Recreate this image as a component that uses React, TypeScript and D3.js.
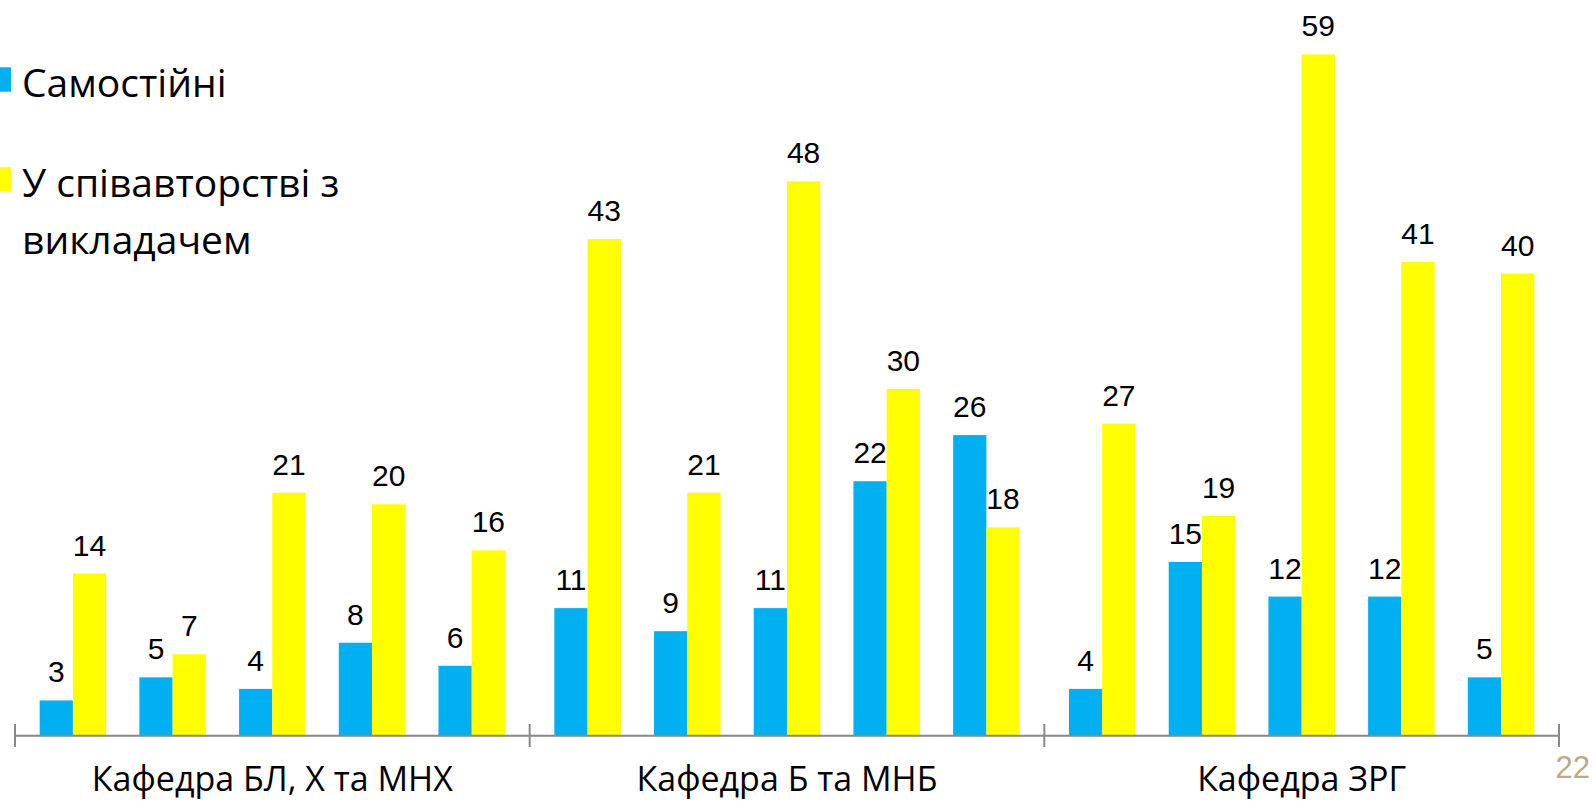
import * as d3 from 'd3';

const groups = ['Кафедра БЛ, Х та МНХ', 'Кафедра Б та МНБ', 'Кафедра ЗРГ'];
const seriesNames = ['Самостійні', 'У співавторстві з викладачем'];
const colors = ['#00B0F0', '#FFFF00'];

// 5 bars per department
const independent = [3, 5, 4, 8, 6, 11, 9, 11, 22, 26, 4, 15, 12, 12, 5];
const coauthored = [14, 7, 21, 20, 16, 43, 21, 48, 30, 18, 27, 19, 59, 41, 40];

const pageNumber = '22';

export default function App() {
  const width = 1595;
  const height = 802;
  const axisY = 735;
  const margin = { left: 15, right: 36 };

  const groupScale = d3
    .scaleBand<string>()
    .domain(groups)
    .range([margin.left, width - margin.right])
    .padding(0);

  const slotScale = d3
    .scaleBand<number>()
    .domain(d3.range(5))
    .range([0, groupScale.bandwidth()])
    .paddingInner(0.333)
    .paddingOuter(0.2475);

  const yScale = d3.scaleLinear().domain([0, 60]).range([axisY, axisY - 60 * 11.535]);

  const barW = slotScale.bandwidth() / 2;
  const series = [independent, coauthored];

  const bars = series.flatMap((vals, s) =>
    vals.map((v, i) => {
      const g = groups[Math.floor(i / 5)];
      const x = (groupScale(g) ?? 0) + (slotScale(i % 5) ?? 0) + s * barW;
      return { key: `${s}-${i}`, x, y: yScale(v), h: yScale(0) - yScale(v), v, fill: colors[s] };
    }),
  );

  const tickXs = [...groups.map((g) => groupScale(g) ?? 0), width - margin.right];

  return (
    <svg
      width={width}
      height={height}
      style={{ position: 'absolute', left: 0, top: 0, background: '#fff' }}>
      <g>
        {bars.map((b) => (
          <rect key={b.key} x={b.x} y={b.y} width={barW} height={b.h} fill={b.fill} />
        ))}
      </g>
      <g fontFamily='"Liberation Sans", Arial, sans-serif' fontSize={30} textAnchor='middle' fill='#000'>
        {bars.map((b) => (
          <text key={b.key} x={b.x + barW / 2} y={b.y - 18}>
            {b.v}
          </text>
        ))}
      </g>
      <line
        x1={margin.left}
        x2={width - margin.right}
        y1={axisY + 0.7}
        y2={axisY + 0.7}
        stroke='#898989'
        strokeWidth={2}
      />
      {tickXs.map((x) => (
        <line key={x} x1={x} x2={x} y1={724} y2={747} stroke='#898989' strokeWidth={2} />
      ))}
      <g fontFamily='"Open Sans", sans-serif' fontSize={34} textAnchor='middle' fill='#000'>
        {groups.map((g) => (
          <text key={g} x={(groupScale(g) ?? 0) + groupScale.bandwidth() / 2} y={791}>
            {g}
          </text>
        ))}
      </g>
      <g fontFamily='"Open Sans", sans-serif' fontSize={39} fill='#000'>
        <rect x={-13.4} y={67.3} width={24.4} height={24.4} fill={colors[0]} />
        <text x={22} y={97}>
          {seriesNames[0]}
        </text>
        <rect x={-13.4} y={167.3} width={24.4} height={24.4} fill={colors[1]} />
        <text x={22} y={197}>
          <tspan x={22}>У співавторстві з</tspan>
          <tspan x={22} dy={57}>
            викладачем
          </tspan>
        </text>
      </g>
      <text
        x={1590}
        y={778}
        textAnchor='end'
        fontFamily='"Liberation Sans", Arial, sans-serif'
        fontSize={31}
        fill='#BBA98B'>
        {pageNumber}
      </text>
    </svg>
  );
}
